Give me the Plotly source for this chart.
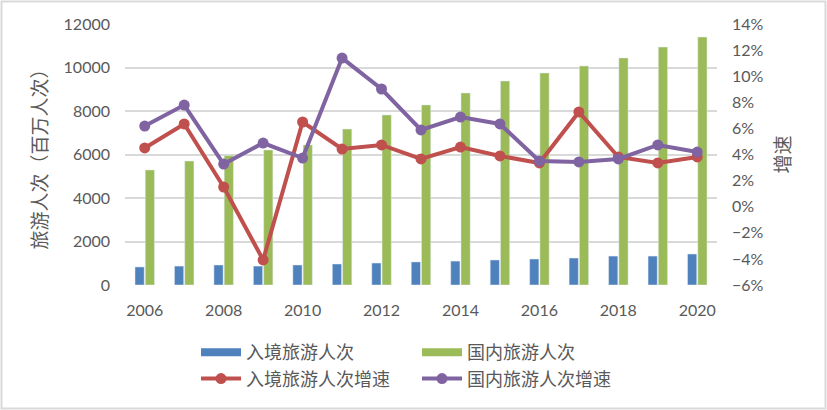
import plotly.graph_objects as go

years = list(range(2006, 2021))
inbound = [830, 870, 920, 870, 920, 965, 1010, 1060, 1100, 1150, 1195, 1240, 1330, 1330, 1425]
domestic = [5290, 5700, 5950, 6210, 6440, 7170, 7820, 8280, 8830, 9380, 9750, 10070, 10440, 10940, 11400]
inbound_growth = [4.50, 6.34, 1.51, -4.08, 6.49, 4.42, 4.73, 3.66, 4.57, 3.89, 3.35, 7.26, 3.81, 3.35, 3.81]
domestic_growth = [6.18, 7.79, 3.27, 4.88, 3.73, 11.39, 9.02, 5.88, 6.87, 6.34, 3.50, 3.43, 3.66, 4.73, 4.19]

names = ["入境旅游人次", "国内旅游人次", "入境旅游人次增速", "国内旅游人次增速"]
c_blue, c_green, c_red, c_purple = "#4F81BD", "#9BBB59", "#C0504D", "#8064A2"

FONT = "Lato, 'Noto Sans CJK SC', sans-serif"
GRAY = "#595959"

W, H = 827, 410
ML, MR, MT, MB = 125, 110, 24, 125
PW, PH = W - ML - MR, H - MT - MB

fig = go.Figure()
fig.add_trace(go.Bar(x=years, y=inbound, name=names[0], marker_color=c_blue,
                     showlegend=False, legendgroup="a"))
fig.add_trace(go.Bar(x=years, y=domestic, name=names[1], marker_color=c_green,
                     showlegend=False, legendgroup="b"))
# legend entries for bars (wide swatches)
fig.add_trace(go.Scatter(x=[None], y=[None], mode="lines", name=names[0],
                         line=dict(color=c_blue, width=8), legendgroup="a"))
fig.add_trace(go.Scatter(x=[None], y=[None], mode="lines", name=names[1],
                         line=dict(color=c_green, width=8), legendgroup="b"))
fig.add_trace(go.Scatter(x=years, y=inbound_growth, name=names[2], yaxis="y2",
                         mode="lines+markers", line=dict(color=c_red, width=4),
                         marker=dict(size=11, color=c_red)))
fig.add_trace(go.Scatter(x=years, y=domestic_growth, name=names[3], yaxis="y2",
                         mode="lines+markers", line=dict(color=c_purple, width=4),
                         marker=dict(size=11, color=c_purple)))

def px_x(p):
    return (p - ML) / PW

def px_y(p):
    return (H - MB - p) / PH

fig.update_layout(
    width=W, height=H,
    margin=dict(l=ML, r=MR, t=MT, b=MB, autoexpand=False),
    paper_bgcolor="white", plot_bgcolor="white",
    font=dict(family=FONT, color=GRAY, size=16),
    barmode="group", bargap=0.48, bargroupgap=0.1,
    xaxis=dict(range=[2005.5, 2020.5], tick0=2006, dtick=2, showgrid=False,
               zeroline=False, showline=False, ticks="",
               tickfont=dict(size=16, color=GRAY), ticklabelstandoff=14),
    yaxis=dict(range=[0, 12000], dtick=2000, tickformat="d", showgrid=True,
               gridcolor="#D9D9D9", gridwidth=1.5, zeroline=False, showline=False,
               ticks="", tickfont=dict(size=16, color=GRAY), ticklabelstandoff=14,
               title=dict(text="旅游人次（百万人次）", font=dict(size=19, color=GRAY),
                          standoff=10)),
    yaxis2=dict(range=[-6, 14], dtick=2, overlaying="y", side="right",
                ticksuffix="%", showgrid=False, zeroline=False, showline=False,
                ticks="", tickfont=dict(size=16, color=GRAY), ticklabelstandoff=14,
                title=dict(text="增速", font=dict(size=19, color=GRAY), standoff=14)),
    legend=dict(orientation="h", x=px_x(196), xanchor="left", y=px_y(334),
                yanchor="top", entrywidth=166, entrywidthmode="pixels",
                font=dict(size=18, color=GRAY), bgcolor="rgba(0,0,0,0)",
                itemwidth=40, tracegroupgap=0),
    shapes=[dict(type="rect", xref="paper", yref="paper",
                 x0=px_x(1.5), x1=px_x(825.5), y0=px_y(408.5), y1=px_y(1.5),
                 line=dict(color="#D9D9D9", width=2), layer="below")],
)

fig.write_html("out.html")
